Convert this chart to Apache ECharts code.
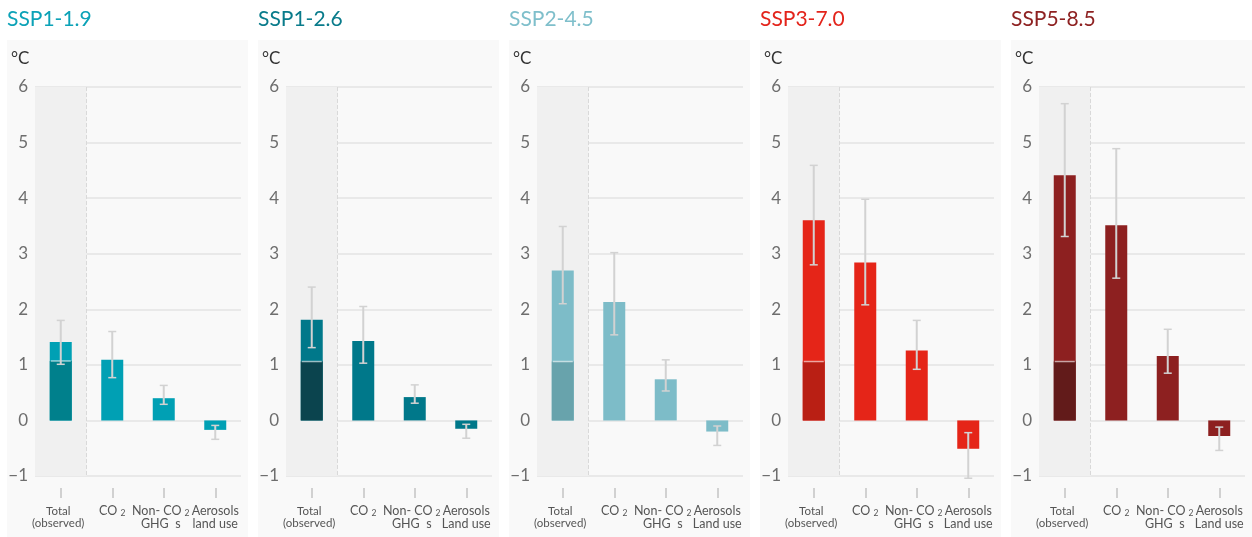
<!DOCTYPE html>
<html>
<head>
<meta charset="utf-8">
<script src="https://cdn.jsdelivr.net/npm/echarts@6/dist/echarts.min.js"></script>
<style>
  html, body { margin: 0; padding: 0; background: #fff; }
  #wrap { position: relative; width: 1252px; height: 537px; overflow: hidden; }
  .panel { position: absolute; top: 40px; width: 241px; height: 497px; background: #f9f9f9; }
  #chart { position: absolute; left: 0; top: 0; width: 1252px; height: 537px; }
</style>
</head>
<body>
<div id="wrap"><div id="chart"></div></div>
<script>
// scenarios and their colours
const scenarios = ['SSP1-1.9', 'SSP1-2.6', 'SSP2-4.5', 'SSP3-7.0', 'SSP5-8.5'];
const titleColors = ['#0ca2b7', '#097b8b', '#7fbfcb', '#e3241b', '#8e2222'];
const mainColors = ['#00a0b4', '#00788a', '#7dbcc8', '#e52518', '#8d2020'];
const obsColors = ['#00808c', '#0b444e', '#68a3ac', '#b91f14', '#621b1a'];

// categories: Total (observed), CO2, Non-CO2 GHGs, Aerosols / land use
const categories = ['total', 'co2', 'nonco2', 'aerosols'];
const aerosolLabels = ['land use', 'Land use', 'Land use', 'Land use', 'Land use'];

// warming contributions, °C
const ssp119 = [1.41, 1.09, 0.40, -0.17];
const ssp126 = [1.81, 1.43, 0.42, -0.15];
const ssp245 = [2.70, 2.13, 0.74, -0.20];
const ssp370 = [3.60, 2.84, 1.26, -0.51];
const ssp585 = [4.41, 3.51, 1.16, -0.28];
const values = [ssp119, ssp126, ssp245, ssp370, ssp585];

// observed part of the total bar
const observed = [1.07, 1.06, 1.06, 1.06, 1.06];

// uncertainty ranges
const low119 = [1.01, 0.77, 0.29, -0.34];
const high119 = [1.80, 1.60, 0.63, -0.09];
const low126 = [1.31, 1.03, 0.31, -0.32];
const high126 = [2.40, 2.05, 0.64, -0.07];
const low245 = [2.10, 1.54, 0.53, -0.45];
const high245 = [3.49, 3.02, 1.09, -0.10];
const low370 = [2.80, 2.08, 0.92, -1.04];
const high370 = [4.59, 3.98, 1.80, -0.22];
const low585 = [3.31, 2.56, 0.85, -0.54];
const high585 = [5.70, 4.89, 1.64, -0.12];
const lows = [low119, low126, low245, low370, low585];
const highs = [high119, high126, high245, high370, high585];

const yMin = -1, yMax = 6, yStep = 1;

const FONT = 'Lato, "Noto Sans", sans-serif';
const PANEL_X = [7, 258, 509, 760, 1011];
const BAR_W = 22;

// panel backgrounds
const wrap = document.getElementById('wrap');
PANEL_X.forEach((x) => {
  const d = document.createElement('div');
  d.className = 'panel';
  d.style.left = x + 'px';
  wrap.insertBefore(d, wrap.firstChild);
});

function labelFor(p) {
  return function (value) {
    if (value === 'total') return '{t|Total}{g4|}\n{t|(observed)}{g4|}';
    if (value === 'co2') return '{a|CO }{s|2}\n{a| }';
    // the original label sits a little left of its tick
    if (value === 'nonco2') return '{a|Non- CO }{s|2}{g|}\n{a|GHG  s}{g|}';
    return '{a|Aerosols}\n{a|' + aerosolLabels[p] + '}';
  };
}

function renderError(params, api) {
  const lo = api.coord([api.value(0), api.value(1)]);
  const hi = api.coord([api.value(0), api.value(2)]);
  const stroke = '#d2d2d2';
  return {
    type: 'group',
    children: [
      { type: 'line', shape: { x1: lo[0], y1: lo[1], x2: hi[0], y2: hi[1] }, style: { stroke, lineWidth: 2 } },
      { type: 'line', shape: { x1: lo[0] - 4, y1: lo[1], x2: lo[0] + 4, y2: lo[1] }, style: { stroke, lineWidth: 1.5 } },
      { type: 'line', shape: { x1: hi[0] - 4, y1: hi[1], x2: hi[0] + 4, y2: hi[1] }, style: { stroke, lineWidth: 1.5 } }
    ]
  };
}

function renderSeparator(params, api) {
  const p = api.coord([api.value(0), api.value(1)]);
  return {
    type: 'line',
    shape: { x1: p[0] - BAR_W / 2 + 1, y1: p[1], x2: p[0] + BAR_W / 2 - 1, y2: p[1] },
    style: { stroke: 'rgba(255,255,255,0.6)', lineWidth: 1.5 }
  };
}

const grids = [], xAxes = [], yAxes = [], series = [], titles = [];

scenarios.forEach((name, p) => {
  const px = PANEL_X[p];
  titles.push({
    text: name, left: px, top: 9, padding: 0,
    textStyle: { fontSize: 21, fontWeight: 'normal', color: titleColors[p], fontFamily: FONT }
  });
  titles.push({
    text: '°C', left: px + 4, top: 50, padding: 0,
    textStyle: { fontSize: 17, fontWeight: 'normal', color: '#333', fontFamily: FONT }
  });
  grids.push({ left: px + 28, width: 206, top: 87, height: 389 });
  xAxes.push({
    type: 'category', gridIndex: p, data: categories, offset: 12,
    axisLine: { show: true, onZero: false, lineStyle: { color: 'rgba(0,0,0,0)' } },
    axisTick: { show: true, alignWithLabel: true, length: 10, lineStyle: { color: '#c4c4c4', width: 1.5 } },
    axisLabel: {
      margin: 17, interval: 0, formatter: labelFor(p), lineHeight: 12,
      rich: {
        t: { fontSize: 11.5, color: '#555', fontFamily: FONT, lineHeight: 12 },
        a: { fontSize: 12.5, color: '#555', fontFamily: FONT, lineHeight: 12.5 },
        s: { fontSize: 8.5, color: '#555', fontFamily: FONT, padding: [5, 0, 0, 0] },
        g: { width: 6 },
        g4: { width: 5 }
      }
    },
    splitArea: { show: true, areaStyle: { color: ['#f0f0f0', 'rgba(0,0,0,0)', 'rgba(0,0,0,0)', 'rgba(0,0,0,0)'] } },
    splitLine: {
      show: true,
      lineStyle: { type: 'dashed', width: 1, color: ['rgba(0,0,0,0)', '#d9d9d9', 'rgba(0,0,0,0)', 'rgba(0,0,0,0)', 'rgba(0,0,0,0)'] }
    }
  });
  yAxes.push({
    type: 'value', gridIndex: p, min: yMin, max: yMax, interval: yStep,
    axisLine: { show: false }, axisTick: { show: false },
    axisLabel: {
      margin: 7, fontSize: 17, color: '#6e6e6e', fontFamily: FONT,
      formatter: (v) => String(v).replace('-', '\u2212')
    },
    splitLine: { lineStyle: { color: '#e3e3e3', width: 1.5 } }
  });
  series.push({
    type: 'bar', xAxisIndex: p, yAxisIndex: p, data: values[p], z: 2,
    barWidth: BAR_W, barGap: '-100%', itemStyle: { color: mainColors[p] }
  });
  series.push({
    type: 'bar', xAxisIndex: p, yAxisIndex: p, z: 3,
    data: [observed[p], '-', '-', '-'],
    barWidth: BAR_W, barGap: '-100%', itemStyle: { color: obsColors[p] }
  });
  series.push({
    type: 'custom', xAxisIndex: p, yAxisIndex: p, renderItem: renderSeparator, z: 5,
    data: [[0, observed[p]]]
  });
  series.push({
    type: 'custom', xAxisIndex: p, yAxisIndex: p, renderItem: renderError, z: 6,
    data: categories.map((c, i) => [i, lows[p][i], highs[p][i]])
  });
});

const chart = echarts.init(document.getElementById('chart'));
chart.setOption({
  backgroundColor: 'transparent',
  animation: false,
  title: titles,
  grid: grids,
  xAxis: xAxes,
  yAxis: yAxes,
  series: series
});
</script>
</body>
</html>
